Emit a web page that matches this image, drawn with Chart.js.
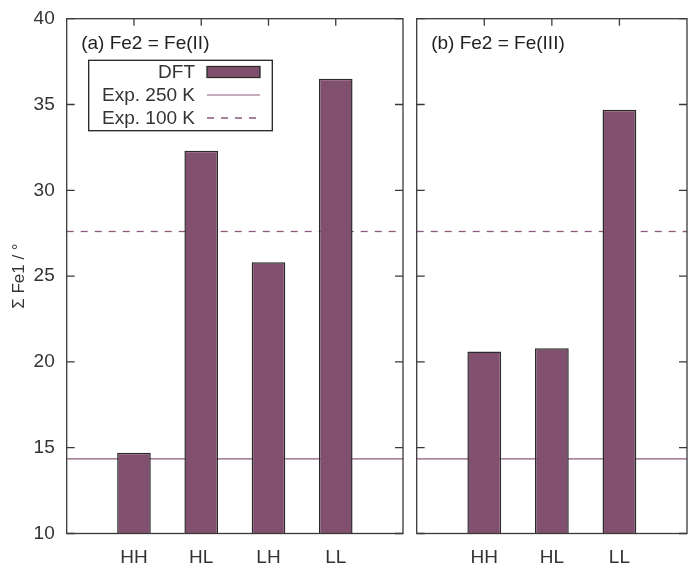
<!DOCTYPE html>
<html>
<head>
<meta charset="utf-8">
<script src="https://cdn.jsdelivr.net/npm/chart.js@4/dist/chart.umd.min.js"></script>
<style>
  body { margin: 0; background: #fff; }
  #wrap { position: relative; width: 688px; height: 569px; }
  canvas { position: absolute; top: 0; }
</style>
</head>
<body>
<div id="wrap">
  <canvas id="panelA" width="410" height="569" style="left:0"></canvas>
  <canvas id="panelB" width="278" height="569" style="left:410px"></canvas>
</div>
<script>
const categoriesA = ["HH", "HL", "LH", "LL"];
const dftA = [14.7, 32.3, 25.8, 36.5];
const categoriesB = ["HH", "HL", "LL"];
const dftB = [20.6, 20.8, 34.7];
const exp250 = 14.35;
const exp100 = 27.6;
const yTicks = [10, 15, 20, 25, 30, 35, 40];

const barFill = "#82506f";
const lineColor = "#8a5a7c";
const frameColor = "#3a3a3a";
const textColor = "#333";
const font = "Liberation Sans, Arial, sans-serif";

// gnuplot style frame with inward tics
const framePlugin = {
    id: "frame",
    afterDraw(chart, args, opts) {
        const { ctx, chartArea: a, scales } = chart;
        ctx.save();
        ctx.strokeStyle = frameColor;
        ctx.lineWidth = 1.3;
        ctx.beginPath();
        yTicks.forEach(v => {
            const y = scales.y.getPixelForValue(v);
            ctx.moveTo(a.left, y); ctx.lineTo(a.left + 8, y);
            ctx.moveTo(a.right, y); ctx.lineTo(a.right - 8, y);
        });
        (opts.cats || []).forEach((c, i) => {
            const x = scales.x.getPixelForValue(i + 1);
            ctx.moveTo(x, a.top); ctx.lineTo(x, a.top + 7);
        });
        ctx.stroke();
        ctx.strokeRect(a.left, a.top, a.right - a.left, a.bottom - a.top);

        ctx.fillStyle = "#222";
        ctx.font = "19px " + font;
        ctx.textAlign = "left";
        ctx.textBaseline = "alphabetic";
        ctx.fillText(opts.title || "", a.left + 14.5, 49);
        ctx.restore();
    }
};

const legendPlugin = {
    id: "boxLegend",
    afterDraw(chart, args, opts) {
        if (!opts.show) return;
        const { ctx } = chart;
        const box = { x: 88.7, y: 60.3, w: 183.6, h: 70.4 };
        ctx.save();
        ctx.fillStyle = "#fff";
        ctx.fillRect(box.x, box.y, box.w, box.h);
        ctx.strokeStyle = "#222";
        ctx.lineWidth = 1.3;
        ctx.strokeRect(box.x, box.y, box.w, box.h);
        ctx.font = "19px " + font;
        ctx.textAlign = "right";
        ctx.textBaseline = "middle";
        chart.data.datasets.forEach((ds, i) => {
            const y = 72 + i * 23;
            ctx.fillStyle = textColor;
            ctx.fillText(ds.label, 195, y + 1);
            if (ds.type === "line") {
                ctx.strokeStyle = ds.borderColor;
                ctx.lineWidth = ds.borderWidth;
                ctx.setLineDash(ds.borderDash || []);
                ctx.beginPath();
                ctx.moveTo(207, y); ctx.lineTo(260, y);
                ctx.stroke();
                ctx.setLineDash([]);
            } else {
                ctx.fillStyle = ds.backgroundColor;
                ctx.fillRect(207, y - 5.5, 53, 11);
                ctx.strokeStyle = ds.borderColor;
                ctx.lineWidth = 1.3;
                ctx.strokeRect(207, y - 5.5, 53, 11);
            }
        });
        ctx.restore();
    }
};

function makePanel(id, cats, values, title, opts) {
    const xMax = cats.length + 1;
    return new Chart(document.getElementById(id), {
        type: "bar",
        data: {
            datasets: [
                {
                    type: "bar",
                    label: "DFT",
                    data: values.map((v, i) => ({ x: i + 1, y: v })),
                    backgroundColor: barFill,
                    borderColor: "#2b2b2b",
                    borderWidth: 1.5,
                    borderSkipped: false,
                    barPercentage: 0.5,
                    categoryPercentage: 1,
                    order: 0
                },
                {
                    type: "line",
                    label: "Exp. 250 K",
                    data: [{ x: 0, y: exp250 }, { x: xMax, y: exp250 }],
                    borderColor: lineColor,
                    borderWidth: 1.2,
                    pointRadius: 0,
                    order: 1
                },
                {
                    type: "line",
                    label: "Exp. 100 K",
                    data: [{ x: 0, y: exp100 }, { x: xMax, y: exp100 }],
                    borderColor: lineColor,
                    borderWidth: 1.3,
                    borderDash: [7, 7],
                    pointRadius: 0,
                    order: 1
                }
            ]
        },
        options: {
            responsive: false,
            animation: false,
            layout: { padding: { left: 0, right: opts.padRight, top: 18.7, bottom: 0 } },
            plugins: {
                legend: { display: false },
                tooltip: { enabled: false },
                frame: { cats: cats, title: title },
                boxLegend: { show: opts.legend }
            },
            scales: {
                x: {
                    type: "linear",
                    min: 0,
                    max: xMax,
                    offset: false,
                    grid: { display: false, offset: false, drawTicks: false },
                    border: { display: false },
                    afterFit: s => { s.height = 35.5; s.paddingLeft = 0; s.paddingRight = 0; },
                    ticks: {
                        stepSize: 1,
                        autoSkip: false,
                        maxRotation: 0,
                        padding: 13,
                        color: textColor,
                        font: { family: font, size: 19 },
                        callback: v => cats[v - 1] || ""
                    }
                },
                y: {
                    min: 10,
                    max: 40,
                    grid: { display: false, drawTicks: false },
                    border: { display: false },
                    afterFit: s => { s.width = opts.axisWidth; s.paddingTop = 0; s.paddingBottom = 0; },
                    ticks: {
                        display: opts.showY,
                        stepSize: 5,
                        padding: 12,
                        color: textColor,
                        font: { family: font, size: 19 }
                    },
                    title: {
                        display: opts.showY,
                        text: "Σ Fe1 / °",
                        color: textColor,
                        padding: { top: 9, bottom: 0 },
                        font: { family: font, size: 17 }
                    }
                }
            }
        },
        plugins: [framePlugin, legendPlugin]
    });
}

makePanel("panelA", categoriesA, dftA, "(a) Fe2 = Fe(II)",
    { padRight: 7, axisWidth: 66.7, showY: true, legend: true });
makePanel("panelB", categoriesB, dftB, "(b) Fe2 = Fe(III)",
    { padRight: 1, axisWidth: 6.7, showY: false, legend: false });
</script>
</body>
</html>
